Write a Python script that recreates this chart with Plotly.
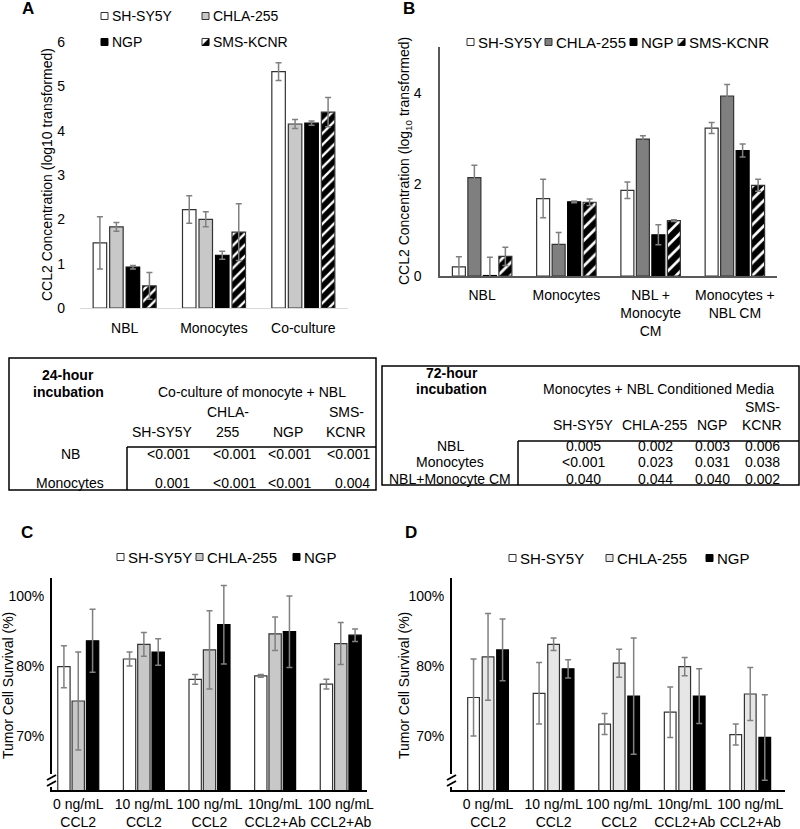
import plotly.graph_objects as go

W, H = 800, 829

# ---- A: CCL2 after 24 h (log10 transformed)
a_groups = ["NBL", "Monocytes", "Co-culture"]
a_sh = [1.47, 2.22, 5.33]
a_sh_err = [0.59, 0.31, 0.20]
a_chla = [1.83, 2.00, 4.15]
a_chla_err = [0.10, 0.17, 0.10]
a_ngp = [0.92, 1.19, 4.17]
a_ngp_err = [0.04, 0.09, 0.05]
a_sms = [0.50, 1.71, 4.42]
a_sms_err = [0.30, 0.64, 0.33]

# ---- B: CCL2 after 72 h
b_groups = ["NBL", "Monocytes", "NBL +<br>Monocyte<br>CM", "Monocytes +<br>NBL CM"]
b_sh = [0.20, 1.69, 1.87, 3.23]
b_sh_err = [0.22, 0.42, 0.18, 0.12]
b_chla = [2.15, 0.69, 2.99, 3.93]
b_chla_err = [0.27, 0.26, 0.07, 0.25]
b_ngp = [0.01, 1.62, 0.90, 2.74]
b_ngp_err = [0.40, 0.02, 0.22, 0.14]
b_sms = [0.43, 1.61, 1.21, 1.98]
b_sms_err = [0.20, 0.07, 0.02, 0.13]

# ---- C / D: tumor cell survival
surv_groups = ["0 ng/mL<br>CCL2", "10 ng/mL<br>CCL2", "100 ng/mL<br>CCL2",
               "10ng/mL<br>CCL2+Ab", "100 ng/mL<br>CCL2+Ab"]
c_sh = [79.9, 81.0, 78.1, 78.6, 77.4]
c_sh_err = [3.0, 1.0, 0.7, 0.2, 0.7]
c_chla = [75.0, 83.1, 82.3, 84.6, 83.2]
c_chla_err = [7.0, 1.7, 5.6, 2.4, 3.0]
c_ngp = [83.6, 82.0, 85.9, 84.9, 84.4]
c_ngp_err = [4.5, 1.9, 5.6, 5.1, 0.9]
d_sh = [75.5, 76.1, 71.7, 73.4, 70.2]
d_sh_err = [5.5, 4.4, 1.5, 3.6, 1.5]
d_chla = [81.3, 83.1, 80.4, 79.9, 76.0]
d_chla_err = [6.2, 0.9, 2.0, 1.3, 3.8]
d_ngp = [82.3, 79.6, 75.7, 75.7, 69.8]
d_ngp_err = [4.4, 1.3, 8.3, 3.9, 6.1]
surv_ticks = [70, 80, 90]
surv_tick_labels = ["70%", "80%", "100%"]

# ---- p-value tables
t1_title = "Co-culture of monocyte + NBL"
t1_cols = [["SH-SY5Y"], ["CHLA-", "255"], ["NGP"], ["SMS-", "KCNR"]]
t1_rows = ["NB", "Monocytes"]
t1_vals = [["<0.001", "<0.001", "<0.001", "<0.001"],
           ["0.001", "<0.001", "<0.001", "0.004"]]
t2_title = "Monocytes + NBL Conditioned Media"
t2_cols = [["SH-SY5Y"], ["CHLA-255"], ["NGP"], ["SMS-", "KCNR"]]
t2_rows = ["NBL", "Monocytes", "NBL+Monocyte CM"]
t2_vals = [["0.005", "0.002", "0.003", "0.006"],
           ["<0.001", "0.023", "0.031", "0.038"],
           ["0.040", "0.044", "0.040", "0.002"]]

FONT = "Liberation Sans, Arial, sans-serif"
ERR = "#808080"


def X(p):
    return p / W


def Y(p):
    return 1 - p / H


fig = go.Figure()


def style(kind, gray="#c8c8c8", hatch=7):
    if kind == "white":
        return dict(color="white", line=dict(color="#333333", width=1.2))
    if kind == "gray":
        return dict(color=gray, line=dict(color="#333333", width=1.2))
    if kind == "black":
        return dict(color="black", line=dict(color="black", width=1.2))
    return dict(color="white", line=dict(color="#333333", width=1.2),
                pattern=dict(shape="/", fgcolor="black", bgcolor="white",
                             fgopacity=1, size=hatch, solidity=0.7))


def add_bars(xa, ya, cats, series, cat_px, slot_px, bar_px):
    n = len(series)
    slot = slot_px / cat_px
    w = bar_px / cat_px
    for i, (name, vals, errs, mk) in enumerate(series):
        off = -n * slot / 2 + i * slot + (slot - w) / 2
        fig.add_trace(go.Bar(
            x=cats, y=vals, name=name, xaxis=xa, yaxis=ya,
            width=w, offset=off, marker=mk, showlegend=False,
            error_y=dict(type="data", array=errs, color=ERR,
                         thickness=1.5, width=3)))


add_bars("x", "y", a_groups, [
    ("SH-SY5Y", a_sh, a_sh_err, style("white")),
    ("CHLA-255", a_chla, a_chla_err, style("gray")),
    ("NGP", a_ngp, a_ngp_err, style("black")),
    ("SMS-KCNR", a_sms, a_sms_err, style("hatch", hatch=8)),
], 89.3, 16.5, 13.5)

add_bars("x2", "y2", b_groups, [
    ("SH-SY5Y", b_sh, b_sh_err, style("white")),
    ("CHLA-255", b_chla, b_chla_err, style("gray", "#7f7f7f")),
    ("NGP", b_ngp, b_ngp_err, style("black")),
    ("SMS-KCNR", b_sms, b_sms_err, style("hatch", hatch=9)),
], 84.3, 15.5, 13)

add_bars("x3", "y3", surv_groups, [
    ("SH-SY5Y", c_sh, c_sh_err, style("white")),
    ("CHLA-255", c_chla, c_chla_err, style("gray")),
    ("NGP", c_ngp, c_ngp_err, style("black")),
], 65.5, 14.3, 12.3)

add_bars("x4", "y4", surv_groups, [
    ("SH-SY5Y", d_sh, d_sh_err, style("white")),
    ("CHLA-255", d_chla, d_chla_err, style("gray", "#e6e6e6")),
    ("NGP", d_ngp, d_ngp_err, style("black")),
], 65.5, 14.5, 11.7)

tickfont = dict(family=FONT, size=14, color="black")
common = dict(showgrid=False, zeroline=False, ticks="", tickfont=tickfont,
              fixedrange=True, automargin=False)

fig.update_layout(
    width=W, height=H, margin=dict(l=0, r=0, t=0, b=0, pad=0),
    paper_bgcolor="white", plot_bgcolor="white",
    font=dict(family=FONT, color="black"),
    showlegend=False, barmode="overlay",
    xaxis=dict(domain=[X(80), X(348)], range=[-0.5, 2.5], anchor="y",
               showline=True, linecolor="#d9d9d9", linewidth=1, tickangle=0,
               ticklabelstandoff=7, **common),
    yaxis=dict(domain=[Y(308), Y(42)], range=[0, 6], dtick=1, anchor="x",
               showline=False, ticklabelstandoff=14, **common),
    xaxis2=dict(domain=[X(440), X(777)], range=[-0.5, 3.5], anchor="y2",
                showline=True, linecolor="#595959", linewidth=1.5, tickangle=0,
                ticklabelstandoff=5, **common),
    yaxis2=dict(domain=[Y(276), Y(47)], range=[0, 5], tickvals=[0, 2, 4],
                anchor="x2", showline=True, linecolor="#595959", linewidth=1.5,
                ticklabelstandoff=14, **common),
    xaxis3=dict(domain=[X(52), X(367)], range=[-0.4, 4.4], anchor="y3",
                showline=True, linecolor="black", linewidth=2, tickangle=0,
                **common),
    yaxis3=dict(domain=[Y(790), Y(578)], range=[62.29, 92.57],
                tickvals=surv_ticks, ticktext=surv_tick_labels, anchor="x3",
                showline=True, linecolor="black", linewidth=2,
                ticklabelstandoff=3, **common),
    xaxis4=dict(domain=[X(452), X(785)], range=[-0.55, 4.53], anchor="y4",
                showline=True, linecolor="black", linewidth=2, tickangle=0,
                **common),
    yaxis4=dict(domain=[Y(790), Y(578)], range=[62.29, 92.57],
                tickvals=surv_ticks, ticktext=surv_tick_labels, anchor="x4",
                showline=True, linecolor="black", linewidth=2,
                ticklabelstandoff=3, **common),
)


def text(x, y, s, size=14, bold=False, xanchor="center", angle=0):
    if bold:
        s = "<b>" + s + "</b>"
    fig.add_annotation(x=X(x), y=Y(y), xref="paper", yref="paper", text=s,
                       showarrow=False, xanchor=xanchor, yanchor="middle",
                       textangle=angle, font=dict(family=FONT, size=size,
                                                  color="black"))


def line(x0, y0, x1, y1, color="black", width=1.5):
    fig.add_shape(type="line", xref="paper", yref="paper", x0=X(x0), y0=Y(y0),
                  x1=X(x1), y1=Y(y1), line=dict(color=color, width=width))


def rect(x0, y0, x1, y1, fill="white", color="black", width=1.5):
    fig.add_shape(type="rect", xref="paper", yref="paper", x0=X(x0), y0=Y(y0),
                  x1=X(x1), y1=Y(y1), fillcolor=fill,
                  line=dict(color=color, width=width))


def legend_item(x, y, kind, label, size=15, gray="#c8c8c8", s=7):
    x0, y0, x1, y1 = x, y - s / 2, x + s, y + s / 2
    if kind == "white":
        rect(x0, y0, x1, y1, "white", "#333333", 1)
    elif kind == "gray":
        rect(x0, y0, x1, y1, gray, "#333333", 1)
    elif kind == "black":
        rect(x0, y0, x1, y1, "black", "black", 1)
    else:
        rect(x0, y0, x1, y1, "white", "#333333", 1)
        fig.add_shape(type="path", xref="paper", yref="paper",
                      path=f"M {X(x1)},{Y(y0)} L {X(x1)},{Y(y1)} L {X(x0)},{Y(y1)} Z",
                      fillcolor="black", line=dict(color="black", width=0.5))
    text(x + s + 2, y, label, size=size, xanchor="left")


# panel letters
text(28, 9, "A", 17, True)
text(409, 9, "B", 17, True)
text(27, 532, "C", 17, True)
text(411, 532, "D", 17, True)

# axis titles
text(47, 175, "CCL2 Concentration (log10 transformed)", 14, angle=-90)
text(405, 161, "CCL2 Concentration (log<sub>10</sub> transformed)", 14, angle=-90)
text(8, 686, "Tumor Cell Survival (%)", 14, angle=-90)
text(404, 686, "Tumor Cell Survival (%)", 14, angle=-90)

# legends
legend_item(101, 16, "white", "SH-SY5Y", 14)
legend_item(202, 16, "gray", "CHLA-255", 14)
legend_item(101, 42, "black", "NGP", 14)
legend_item(202, 42, "hatch", "SMS-KCNR", 14)

legend_item(467, 42, "white", "SH-SY5Y")
legend_item(545, 42, "gray", "CHLA-255", gray="#7f7f7f")
legend_item(630, 42, "black", "NGP")
legend_item(678, 42, "hatch", "SMS-KCNR")

legend_item(117, 557, "white", "SH-SY5Y")
legend_item(196, 557, "gray", "CHLA-255")
legend_item(293, 557, "black", "NGP")

legend_item(509, 558, "white", "SH-SY5Y")
legend_item(606, 558, "gray", "CHLA-255", gray="#e6e6e6")
legend_item(706, 558, "black", "NGP")

# axis break marks
for ax in (52, 452):
    rect(ax - 5, 774, ax + 5, 787, "white", "white", 0)
    line(ax - 5, 780, ax + 4, 775, "black", 2)
    line(ax - 5, 786, ax + 4, 781, "black", 2)

# table 1 (24 h)
rect(9, 358, 376, 490, "rgba(0,0,0,0)")
line(127, 447, 376, 447)
line(127, 447, 127, 490)
text(68, 375, "24-hour", 14, True)
text(68, 392, "incubation", 14, True)
text(252, 392, t1_title)
t1_x = [162, 228, 288, 346]
for cx, lines in zip(t1_x, t1_cols):
    for k, s in enumerate(reversed(lines)):
        text(cx, 432 - 20 * k, s)
t1_right = [192, 258, 313, 372]
for r, (lab, ry) in enumerate(zip(t1_rows, [454, 483])):
    text(70, ry, lab)
    for c, rx in enumerate(t1_right):
        text(rx, ry, t1_vals[r][c], xanchor="right")

# table 2 (72 h)
rect(382, 366, 799, 485, "rgba(0,0,0,0)")
line(518, 441, 799, 441)
line(518, 441, 518, 485)
text(452, 373, "72-hour", 14, True)
text(452, 389, "incubation", 14, True)
text(658, 389, t2_title)
t2_x = [583, 655, 712, 762]
for cx, lines in zip(t2_x, t2_cols):
    for k, s in enumerate(reversed(lines)):
        text(cx, 425 - 18 * k, s)
for r, (lab, ry) in enumerate(zip(t2_rows, [446, 462, 479])):
    text(450, ry, lab)
    for c, cx in enumerate(t2_x):
        text(cx, ry, t2_vals[r][c])

# the page body has a default 8px margin; drop it so the figure fills the window
fig.write_html("out.html", config={"displayModeBar": False},
               post_script="document.body.style.margin = '0';")
